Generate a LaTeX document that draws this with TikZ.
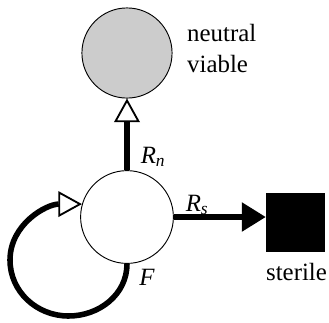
\documentclass[tikz,border=0pt]{standalone}
\usepackage{fontspec}
\setmainfont{Liberation Serif}
\usetikzlibrary{arrows.meta,positioning}

\begin{document}
\begin{tikzpicture}[font=\fontsize{21.5}{27.5}\selectfont,
 st/.style={circle,draw=black,line width=0.8pt,minimum size=2.82cm,inner sep=0pt},
 flow/.style={line width=4.8pt},
 opentip/.style={-{Triangle[open,line width=1.6pt,length=0.72cm,width=0.78cm]}},
 filltip/.style={-{Triangle[length=0.73cm,width=0.85cm]}}]
\useasboundingbox (0,0) rectangle (10,9.787);
\node[st,fill=gray!40,minimum size=2.74cm] (nv) at (3.86,8.176) {};
\node[st,fill=white] (mut) at (3.86,3.191) {};
\node[draw=black,fill=black,minimum size=1.76cm,inner sep=0pt] (ster) at (8.967,3.04) {};
\coordinate (lpB) at (2.082,0.182);
\coordinate (lpL) at (0.304,1.884);
\draw[flow,opentip] (mut.north)--(nv.south);
\draw[flow,filltip] (mut.east)--(mut.east -| ster.west);
\draw[flow,opentip] (mut.south) to[out=-90,in=0] (lpB) to[out=180,in=-90] (lpL) to[out=90,in=180] (mut.164);
\node (rn) at (4.65,5.015) {\textit{R}\textsubscript{\textit{n}}};
\node (rs) at (5.99,3.556) {\textit{R}\textsubscript{\textit{s}}};
\node (f) at (4.47,1.37) {\textit{F}};
\node[align=left,anchor=west,inner sep=0pt] (nvlab) at (5.684,8.31) {neutral\\viable};
\node (sterlab) at (9.012,1.505) {sterile};
\end{tikzpicture}
\end{document}
